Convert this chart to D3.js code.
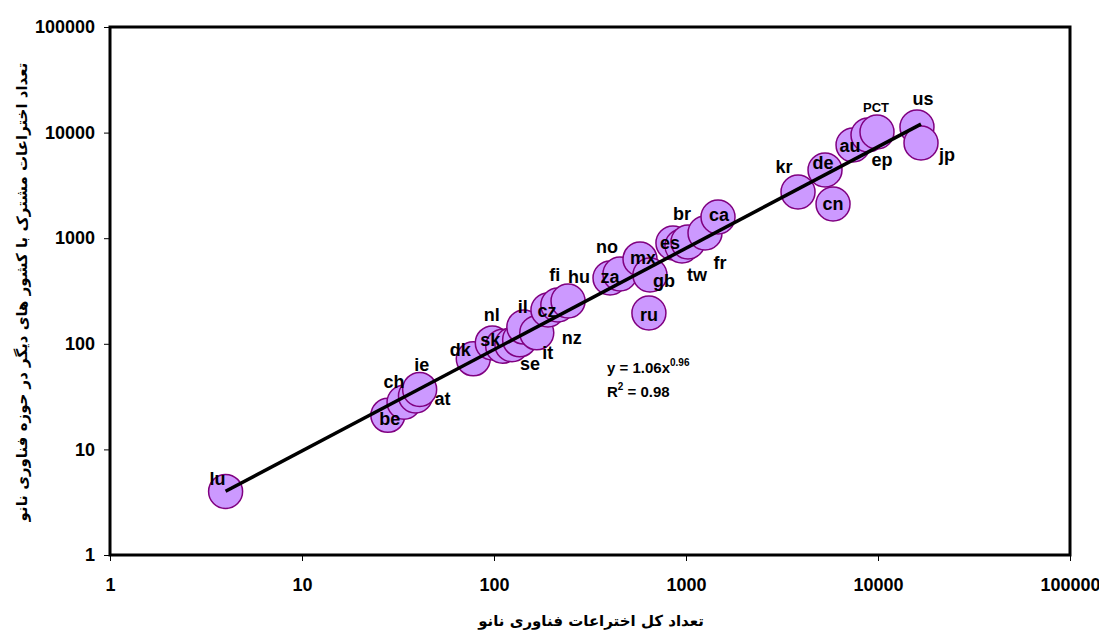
<!DOCTYPE html>
<html>
<head>
<meta charset="utf-8">
<script src="https://cdn.jsdelivr.net/npm/d3@7"></script>
<style>
  body { margin: 0; background: #fff; }
  text { font-family: "Liberation Sans", Arial, sans-serif; font-weight: bold; }
  .fa { font-family: "DejaVu Sans", "Noto Sans", sans-serif; }
</style>
</head>
<body>
<svg id="chart" width="1099" height="633"></svg>
<script>
// country codes and values
const codes = ['lu', 'be', 'ch', 'at', 'ie', 'dk', 'sk', 'nl', 'se', 'it', 'il', 'nz', 'cz', 'fi', 'hu',
  'za', 'no', 'mx', 'gb', 'ru', 'es', 'tw', 'br', 'fr', 'ca', 'kr', 'de', 'cn', 'au', 'ep', 'PCT', 'us', 'jp'];
// total nano patents (x)
const totalPatents = [4, 28, 34, 39, 41, 78, 98, 111, 124, 136, 143, 167, 191, 215, 243,
  402, 453, 576, 649, 641, 855, 953, 1024, 1256, 1468, 3832, 5297, 5832, 7413, 8870, 9880, 15960, 16750];
// patents shared with other countries (y)
const jointPatents = [4, 21, 28, 32, 37, 72, 102, 95, 98, 109, 144, 127, 209, 233, 254,
  420, 458, 635, 448, 196, 901, 844, 921, 1120, 1586, 2738, 4424, 2108, 7632, 9490, 10130, 11300, 7970];
const tickValues = [1, 10, 100, 1000, 10000, 100000];
// power trend line y = a * x^b
const trendA = 1.06;
const trendB = 0.96;

const xTitle = 'تعداد کل اختراعات فناوری نانو';
const yTitle = 'تعداد  اختراعات مشترک با کشور های دیگر در حوزه فناوری نانو';

// label nudges in pixels relative to the bubble
const labelNudge = {
  lu: [-8, -12], be: [2, 4], ch: [-10, -20], ie: [2, -24], at: [27, 3], dk: [-13, -9],
  sk: [-2, -3], nl: [-11, -31], se: [18, 19], it: [28, 13], il: [-1, -20], nz: [35, 5],
  cz: [-1, 1], fi: [-3, -30], hu: [11, -24], za: [0, -1], no: [-13, -27], mx: [3, -1],
  gb: [14, 6], ru: [0, 2], es: [-3, 0], tw: [15, 29], br: [-6, -28], fr: [15, 30],
  ca: [1, -2], kr: [-14, -25], de: [-2, -7], cn: [0, 0], au: [-3, 1], ep: [14, 25],
  PCT: [-1, -25], us: [6, -28], jp: [26, 12]
};

const svg = d3.select('#chart');
const plotLeft = 110, plotRight = 1070, plotTop = 27, plotBottom = 555;

const x = d3.scaleLog().domain([1, 100000]).range([plotLeft, plotRight]);
const y = d3.scaleLog().domain([1, 100000]).range([plotBottom, plotTop]);

const data = codes.map((c, i) => ({ code: c, x: totalPatents[i], y: jointPatents[i] }));

// axes
const xAxis = svg.append('g')
  .attr('transform', `translate(0,${plotBottom})`)
  .call(d3.axisBottom(x).tickValues(tickValues).tickFormat(d3.format('d')).tickSize(6).tickPadding(17));
const yAxis = svg.append('g')
  .attr('transform', `translate(${plotLeft},0)`)
  .call(d3.axisLeft(y).tickValues(tickValues).tickFormat(d3.format('d')).tickSize(6).tickPadding(9));

[xAxis, yAxis].forEach(g => {
  g.select('.domain').remove();
  g.selectAll('line').attr('stroke', '#000');
  g.selectAll('text')
    .attr('fill', '#000')
    .style('font-size', '18px')
    .style('font-family', '"Liberation Sans", Arial, sans-serif')
    .style('font-weight', 'bold');
});

// plot area frame
svg.append('rect')
  .attr('x', plotLeft).attr('y', plotTop)
  .attr('width', plotRight - plotLeft).attr('height', plotBottom - plotTop)
  .attr('fill', 'none')
  .attr('stroke', '#000')
  .attr('stroke-width', 3);

// bubbles
svg.append('g').selectAll('circle')
  .data(data)
  .join('circle')
  .attr('cx', d => x(d.x))
  .attr('cy', d => y(d.y))
  .attr('r', 17)
  .attr('fill', '#CC99FF')
  .attr('stroke', '#800080')
  .attr('stroke-width', 1.5);

// trend line across the data range
const xr = d3.extent(totalPatents);
const trend = xr.map(v => [v, trendA * Math.pow(v, trendB)]);
svg.append('path')
  .datum(trend)
  .attr('d', d3.line().x(d => x(d[0])).y(d => y(d[1])))
  .attr('stroke', '#000')
  .attr('stroke-width', 3.5)
  .attr('fill', 'none');

// labels
svg.append('g').selectAll('text')
  .data(data)
  .join('text')
  .attr('x', d => x(d.x) + labelNudge[d.code][0])
  .attr('y', d => y(d.y) + labelNudge[d.code][1])
  .attr('text-anchor', 'middle')
  .attr('dominant-baseline', 'central')
  .style('font-size', d => d.code === 'PCT' ? '13px' : '18px')
  .attr('fill', '#000')
  .text(d => d.code);

// equation
const eq = svg.append('text').attr('x', 607).attr('y', 373).style('font-size', '15px');
eq.append('tspan').text('y = ' + trendA.toFixed(2) + 'x');
eq.append('tspan').attr('dy', -7).style('font-size', '10px').text(trendB.toFixed(2));
const r2 = svg.append('text').attr('x', 607).attr('y', 397).style('font-size', '15px');
r2.append('tspan').text('R');
r2.append('tspan').attr('dy', -7).style('font-size', '10px').text('2');
r2.append('tspan').attr('dy', 7).text(' = 0.98');

// axis titles
svg.append('text')
  .attr('class', 'fa')
  .attr('x', 591).attr('y', 626)
  .attr('text-anchor', 'middle')
  .style('font-size', '15px')
  .text(xTitle);

svg.append('text')
  .attr('class', 'fa')
  .attr('transform', 'translate(27,292) rotate(-90)')
  .attr('text-anchor', 'middle')
  .style('font-size', '15px')
  .text(yTitle);
</script>
</body>
</html>
